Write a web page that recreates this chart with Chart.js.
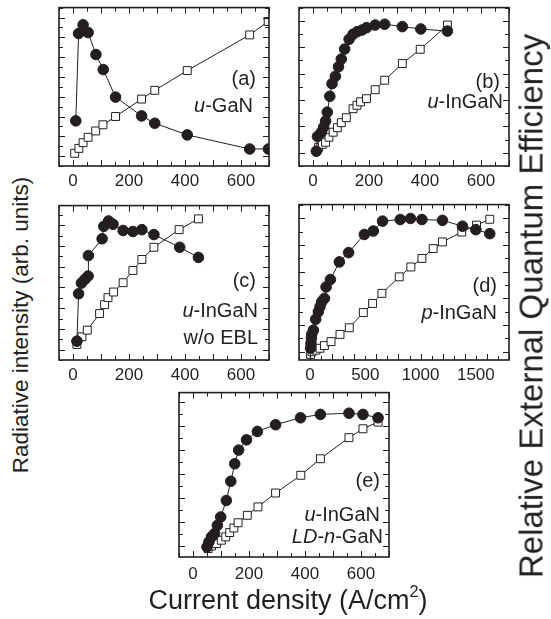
<!DOCTYPE html>
<html><head><meta charset="utf-8">
<script src="https://cdn.jsdelivr.net/npm/chart.js@4/dist/chart.umd.min.js"></script>
<style>
html,body{margin:0;padding:0;background:#fff;}
#wrap{position:relative;width:551px;height:619px;overflow:hidden;font-family:"Liberation Sans",Arial,sans-serif;color:#231f20;}
canvas{position:absolute;}
.lbl{position:absolute;font-size:20px;line-height:20px;white-space:nowrap;text-align:right;}
.rot{position:absolute;white-space:nowrap;transform:translate(-50%,-50%) rotate(-90deg);line-height:1;}
.hor{position:absolute;white-space:nowrap;transform:translate(-50%,-50%);line-height:1;}
sup{font-size:60%;vertical-align:0.7em;line-height:0;}
</style></head>
<body><div id="wrap"></div>
<script>
// ---- data (x: current density A/cm2, y: arbitrary units) ----
const aCircX = [10,20,36,54,82,108,152,245,292,408,631,698];
const aCircY = [1.78,6.19,6.63,6.24,5.13,4.37,2.98,2.03,1.66,1.07,0.36,0.36];
const aSqX   = [6,21,36,54,81,107,152,245,292,408,631,697];
const aSqY   = [0.14,0.39,0.68,0.95,1.27,1.58,2.0,2.88,3.32,4.32,6.12,6.8];

const bCircX = [12,16,30,38,45,51,60,68,80,91,101,113,129,143,158,175,191,222,256,319,385,480];
const bCircY = [0.06,0.62,0.78,0.97,1.20,1.54,2.14,2.62,2.90,3.26,3.55,3.93,4.30,4.49,4.59,4.65,4.74,4.84,4.87,4.78,4.69,4.61];
const bSqX   = [20,33,45,57,72,87,101,119,143,157,170,191,222,256,319,383,480];
const bSqY   = [0.21,0.32,0.40,0.59,0.78,0.95,1.14,1.33,1.67,1.80,1.93,2.05,2.39,2.75,3.38,3.92,4.84];

const cCircX = [14,20,30,42,54,55,104,110,127,143,179,214,246,289,381,448];
const cCircY = [0.41,2.70,3.21,3.39,3.55,4.54,5.35,5.95,6.21,6.05,5.75,5.70,5.79,5.55,4.94,4.45];
const cSqX   = [14,32,51,95,113,125,145,179,214,246,289,379,448];
const cSqY   = [0.25,0.62,0.94,1.74,2.17,2.51,2.78,3.23,3.82,4.35,4.94,5.79,6.31];

const dCircX = [5,8,12,15,30,51,75,90,105,130,145,184,265,349,491,572,656,816,909,1012,1198,1379,1500,1626];
const dCircY = [0.13,0.31,0.50,0.65,0.81,1.22,1.50,1.69,1.87,2.0,2.43,2.71,3.37,3.72,4.40,4.53,4.90,4.96,5.0,4.96,4.93,4.71,4.58,4.43];
const dSqX   = [5,18,54,90,130,190,271,355,482,566,650,807,912,1012,1114,1198,1373,1506,1626];
const dSqY   = [-0.1,0,0.06,0.13,0.23,0.38,0.65,0.90,1.47,1.81,2.19,2.81,3.18,3.50,3.87,4.12,4.49,4.75,4.97];

const eCircX = [50,57,66,77,87,99,119,135,149,163,191,230,295,384,455,557,607,661];
const eCircY = [-0.04,0.17,0.38,0.52,0.86,1.21,1.90,2.70,3.43,4.0,4.43,4.78,5.06,5.35,5.49,5.54,5.49,5.35];
const eSqX   = [54,66,84,101,117,131,146,161,194,232,295,385,455,557,607,661];
const eSqY   = [-0.11,0,0.1,0.24,0.38,0.56,0.75,0.97,1.28,1.63,2.21,2.95,3.64,4.52,4.89,5.17];

const tickLabelsJ   = [0,200,400,600];
const tickLabelsJd  = [0,500,1000,1500];

const INK = '#231f20';

const panels = [
  {L:59, T:7,   R:269, B:166, xmin:-50,  xmax:700,  xl:tickLabelsJ,  xminor:50,  ymin:-0.5,  ymax:7.5,  pad:5, cx:aCircX, cy:aCircY, sx:aSqX, sy:aSqY},
  {L:299,T:7,   R:509, B:166, xmin:-50,  xmax:700,  xl:tickLabelsJ,  xminor:50,  ymin:-0.5,  ymax:5.5,  pad:5, cx:bCircX, cy:bCircY, sx:bSqX, sy:bSqY},
  {L:59, T:205, R:269, B:360, xmin:-50,  xmax:700,  xl:tickLabelsJ,  xminor:50,  ymin:-0.5,  ymax:6.95, pad:5, cx:cCircX, cy:cCircY, sx:cSqX, sy:cSqY},
  {L:299,T:204, R:509, B:360, xmin:-100, xmax:1800, xl:tickLabelsJd, xminor:100, ymin:-0.31, ymax:5.52, pad:5, cx:dCircX, cy:dCircY, sx:dSqX, sy:dSqY},
  {L:179,T:392, R:389, B:557, xmin:-50,  xmax:700,  xl:tickLabelsJ,  xminor:50,  ymin:-0.46, ymax:6.4,  pad:7, cx:eCircX, cy:eCircY, sx:eSqX, sy:eSqY}
];

const PADL=14, PADR=14, PADT=6, XAXH=30;

const framePlugin = {
  id:'frame',
  afterDatasetsDraw(chart){
    const ctx = chart.ctx, a = chart.chartArea;
    const xs = chart.scales.x, ys = chart.scales.y;
    const p = chart.options.plugins.frame;
    ctx.save();
    ctx.strokeStyle = INK;
    ctx.lineWidth = 1;
    for (let v = Math.ceil(xs.min / p.xminor) * p.xminor; v <= xs.max + 1e-9; v += p.xminor) {
      const px = Math.round(xs.getPixelForValue(v)) + 0.5;
      const len = (v % (p.xminor*2) === 0) ? 6 : 4;
      ctx.beginPath();
      ctx.moveTo(px, a.bottom); ctx.lineTo(px, a.bottom - len);
      ctx.moveTo(px, a.top); ctx.lineTo(px, a.top + len);
      ctx.stroke();
    }
    for (let v = Math.ceil(ys.min / 0.5) * 0.5; v <= ys.max + 1e-9; v += 0.5) {
      const py = Math.round(ys.getPixelForValue(v)) + 0.5;
      const len = (Math.abs(v - Math.round(v)) < 1e-6) ? 6 : 4;
      ctx.beginPath();
      ctx.moveTo(a.left, py); ctx.lineTo(a.left + len, py);
      ctx.moveTo(a.right, py); ctx.lineTo(a.right - len, py);
      ctx.stroke();
    }
    ctx.lineWidth = 1.6;
    ctx.strokeRect(a.left, a.top, a.right - a.left, a.bottom - a.top);
    ctx.restore();
  }
};

const wrap = document.getElementById('wrap');

panels.forEach(p => {
  const cv = document.createElement('canvas');
  const w = (p.R - p.L) + PADL + PADR;
  const h = (p.B - p.T) + PADT + XAXH;
  cv.width = w; cv.height = h;
  cv.style.width = w + 'px'; cv.style.height = h + 'px';
  cv.style.left = (p.L - PADL) + 'px';
  cv.style.top = (p.T - PADT) + 'px';
  wrap.appendChild(cv);
  const circ = p.cx.map((x,i)=>({x:x, y:p.cy[i]}));
  const sq = p.sx.map((x,i)=>({x:x, y:p.sy[i]}));
  new Chart(cv, {
    type:'line',
    data:{datasets:[
      {data:circ, borderColor:INK, borderWidth:1, pointStyle:'circle', pointRadius:5.3,
       pointBackgroundColor:INK, pointBorderColor:INK, pointBorderWidth:1, tension:0, fill:false},
      {data:sq, borderColor:INK, borderWidth:1, pointStyle:'rect', pointRadius:5.6,
       pointBackgroundColor:'#fff', pointBorderColor:INK, pointBorderWidth:1, tension:0, fill:false}
    ]},
    options:{
      responsive:false, animation:false, devicePixelRatio:1,
      layout:{padding:{left:PADL, right:PADR, top:PADT, bottom:0}},
      plugins:{legend:{display:false}, tooltip:{enabled:false}, frame:{xminor:p.xminor}},
      scales:{
        x:{type:'linear', min:p.xmin, max:p.xmax,
           grid:{display:false, drawTicks:false}, border:{display:false},
           afterBuildTicks:(s)=>{ s.ticks = p.xl.map(v=>({value:v})); },
           afterFit:(s)=>{ s.height = XAXH; },
           ticks:{padding:p.pad, color:INK, font:{family:'"Liberation Sans", Arial, sans-serif', size:17},
                  maxRotation:0, autoSkip:false, callback:(v)=>String(v)}},
        y:{type:'linear', min:p.ymin, max:p.ymax, display:false}
      }
    },
    plugins:[framePlugin]
  });
});

function addLabel(html, right, cy){
  const d = document.createElement('div');
  d.className = 'lbl';
  d.innerHTML = html;
  d.style.right = (551 - right) + 'px';
  d.style.top = (cy - 10) + 'px';
  wrap.appendChild(d);
}
addLabel('(a)', 256, 78);
addLabel('<i>u</i>-GaN', 253, 105);
addLabel('(b)', 500, 81);
addLabel('<i>u</i>-InGaN', 503, 101);
addLabel('(c)', 256, 280);
addLabel('<i>u</i>-InGaN', 258, 310);
addLabel('w/o EBL', 258, 337);
addLabel('(d)', 497, 285);
addLabel('<i>p</i>-InGaN', 497, 312);
addLabel('(e)', 380, 480);
addLabel('<i>u</i>-InGaN', 380, 514);
addLabel('<i>LD</i>-<i>n</i>-GaN', 383, 536);

function addTitle(html, cls, cx, cy, size){
  const d = document.createElement('div');
  d.className = cls;
  d.innerHTML = html;
  d.style.left = cx + 'px';
  d.style.top = cy + 'px';
  d.style.fontSize = size + 'px';
  wrap.appendChild(d);
}
addTitle('Radiative intensity (arb. units)', 'rot', 21, 325, 22.5);
addTitle('Relative External Quantum Efficiency', 'rot', 531, 306, 33);
addTitle('Current density (A/cm<sup>2</sup>)', 'hor', 288, 600, 27);
</script>
</body></html>
